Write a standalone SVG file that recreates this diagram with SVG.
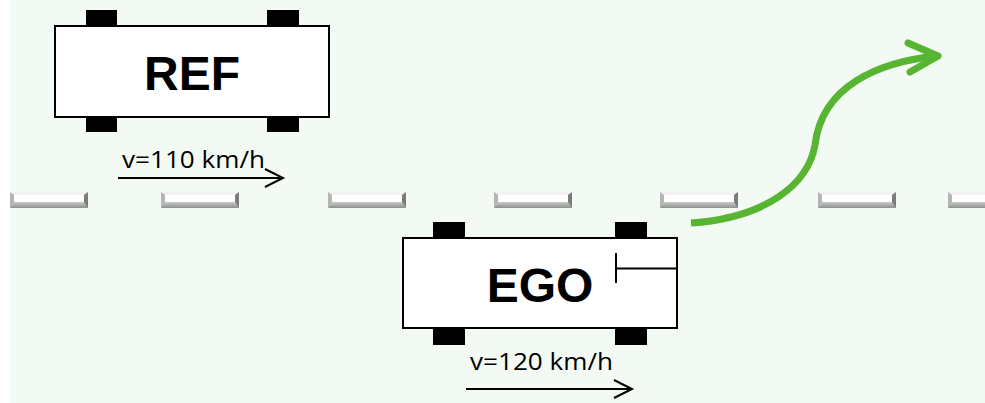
<svg xmlns="http://www.w3.org/2000/svg" width="985" height="403" viewBox="0 0 985 403">
  <style>
    .body { fill: #ffffff; stroke: #000000; stroke-width: 2; }
    .wheel { fill: #000000; }
    .label { font-family: "Liberation Sans", Arial, sans-serif; font-weight: bold; font-size: 48px; fill: #000000; }
    .speed { font-family: "Open Sans", "DejaVu Sans", sans-serif; font-size: 23px; fill: #000000; }
    .line { fill: none; stroke: #000000; stroke-width: 2; }
    .path { fill: none; stroke: #57b531; stroke-width: 7; stroke-linecap: butt; }
    .head { fill: none; stroke: #57b531; stroke-width: 7; stroke-linecap: round; stroke-linejoin: round; }
  </style>
  <defs>
    <linearGradient id="dashBottom" x1="0" y1="0" x2="0" y2="1">
      <stop offset="0" stop-color="#c9cbc9"/>
      <stop offset="1" stop-color="#8e908e"/>
    </linearGradient>
    <g id="dash">
      <rect x="0" y="0" width="78" height="16" fill="#d4d6d4"/>
      <polygon points="0,0 78,0 74,3 4,3" fill="#f2f2f2"/>
      <rect x="4" y="3" width="70" height="7" fill="#ffffff"/>
      <polygon points="4,10 74,10 78,16 0,16" fill="url(#dashBottom)"/>
      <polygon points="0,0 4,3 4,10 0,16" fill="#b4b6b4"/>
      <polygon points="78,0 74,3 74,10 78,16" fill="#7a7c7a"/>
    </g>
  </defs>

  <rect x="10" y="0" width="975" height="403" fill="#f3f9f3"/>

  <g id="lane-markings">
    <use href="#dash" x="10" y="192"/>
    <use href="#dash" x="161" y="192"/>
    <use href="#dash" x="328" y="192"/>
    <use href="#dash" x="494" y="192"/>
    <use href="#dash" x="660" y="192"/>
    <use href="#dash" x="818" y="192"/>
    <use href="#dash" x="948" y="192"/>
  </g>

  <g id="ref-car">
    <rect class="wheel" x="86" y="10" width="31" height="17"/>
    <rect class="wheel" x="267" y="10" width="32" height="17"/>
    <rect class="wheel" x="86" y="116" width="31" height="16"/>
    <rect class="wheel" x="267" y="116" width="32" height="16"/>
    <rect class="body" x="55" y="26" width="274" height="91"/>
    <text class="label" x="192" y="90" text-anchor="middle">REF</text>
  </g>

  <g id="ref-speed">
    <text class="speed" x="122" y="168" textLength="143" lengthAdjust="spacingAndGlyphs">v=110 km/h</text>
  </g>

  <g id="ego-car">
    <rect class="wheel" x="433" y="222" width="32" height="17"/>
    <rect class="wheel" x="615" y="222" width="32" height="17"/>
    <rect class="wheel" x="433" y="327" width="32" height="18"/>
    <rect class="wheel" x="615" y="327" width="32" height="18"/>
    <rect class="body" x="403" y="238" width="274" height="90"/>
    <text class="label" x="540" y="302" text-anchor="middle">EGO</text>
    <line class="line" x1="616" y1="253" x2="616" y2="283"/>
    <line class="line" x1="616" y1="268.5" x2="677" y2="268.5"/>
  </g>

  <g id="ego-speed">
    <text class="speed" x="470" y="370" textLength="143" lengthAdjust="spacingAndGlyphs">v=120 km/h</text>
  </g>

  <g id="connectors">
    <line class="line" x1="118" y1="178" x2="283" y2="178"/>
    <polyline class="line" points="265,169 283,178 265,187"/>
    <line class="line" x1="466" y1="389" x2="632" y2="389"/>
    <polyline class="line" points="614,380 632,389 614,398"/>
    <path class="path" d="M 691 223 C 765 218, 808 185, 815 145 C 822 85, 880 62, 936 56"/>
    <polyline class="head" points="908,43 938,56 910,72"/>
  </g>
</svg>
